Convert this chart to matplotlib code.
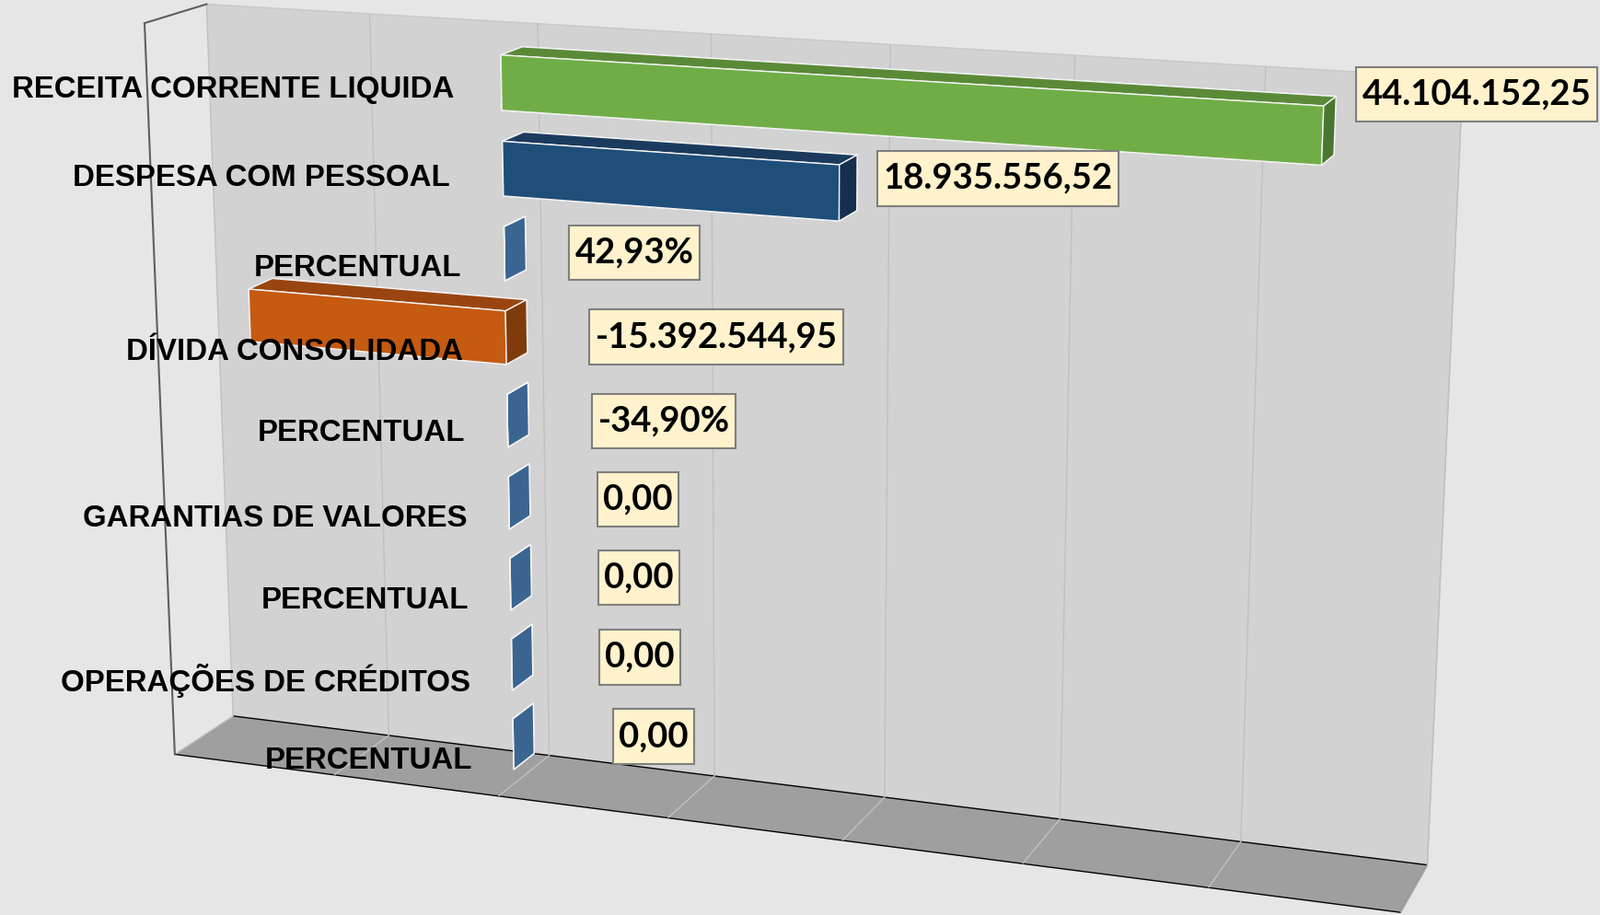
"""Excel-style 3D horizontal bar chart (LRF summary), redrawn with mplot3d."""
import numpy as np
import matplotlib
matplotlib.use("Agg")
import matplotlib.pyplot as plt
from matplotlib.path import Path

# data
categories = [
    "RECEITA CORRENTE LIQUIDA",
    "DESPESA COM PESSOAL",
    "PERCENTUAL",
    "DÍVIDA CONSOLIDADA",
    "PERCENTUAL",
    "GARANTIAS DE VALORES",
    "PERCENTUAL",
    "OPERAÇÕES DE CRÉDITOS",
    "PERCENTUAL",
]
values = [44104152.25, 18935556.52, 42.93, -15392544.95, -34.90, 0.0, 0.0, 0.0, 0.0]
value_labels = ["44.104.152,25", "18.935.556,52", "42,93%", "-15.392.544,95",
                "-34,90%", "0,00", "0,00", "0,00", "0,00"]
value_ticks = np.arange(-20e6, 50e6 + 1, 10e6)

# styling (front, top, end face) per bar
GREEN = ("#70ad47", "#5a8a38", "#4b7630")
BLUE = ("#1f4e79", "#1b3b5e", "#162f4c")
ORANGE = ("#c55a11", "#9a4510", "#803b0c")
STEEL = ("#3a6590", "#3a6590", "#3a6590")
bar_styles = [GREEN, BLUE, STEEL, ORANGE, STEEL, STEEL, STEEL, STEEL, STEEL]
# label placement tweaks (value units / category units)
label_dx = [1.9e6, 2.4e6, 4.1e6, 5.2e6, 5.3e6, 5.55e6, 5.55e6, 5.55e6, 6.3e6]
label_dz = [0.47, 0.20, 0.08, 0.10, 0.10, 0.16, 0.21, 0.23, 0.26]
cat_dx = [-0.2e6, -0.6e6, 0, 0, 0, 0, 0, 0, 0]
cat_dz = [-0.03, -0.06, -0.1, -0.1, -0.06, -0.1, -0.1, -0.1, -0.1]

BG = "#e6e6e6"
WALL = "#d3d2d3"
FLOOR = "#9f9f9f"
GRID = "#c0c0c0"


def label_box(x0, y0, width, height, mutation_size):
    # Excel data-label box: narrow side padding, taller top/bottom padding
    px, py = 0.17 * mutation_size, 0.335 * mutation_size
    a, b = x0 - px, y0 - py
    c, d = x0 + width + px, y0 + height + py
    return Path([(a, b), (c, b), (c, d), (a, d), (a, b)], closed=True)


W, H, DPI = 1738, 994, 100
fig = plt.figure(figsize=(W / DPI, H / DPI), dpi=DPI)
fig.patch.set_facecolor(BG)

# big square 3d axes, positioned so the box centre lands where it should
S = 2000.0
cx, cy = 844.0, H - 476.0
frac = 0.095 / 0.185
ax = fig.add_axes([(cx - frac * S) / W, (cy - frac * S) / H, S / W, S / H],
                  projection="3d", computed_zorder=False)
ax.patch.set_alpha(0)
ax.set_proj_type("persp", focal_length=0.4)
ax.view_init(elev=15, azim=-70)
ax.set_box_aspect((1365, 138, 813.2), zoom=0.811)

n = len(categories)
zpos = np.arange(n)[::-1].astype(float)
ztop = n - 0.48
ax.set_xlim(value_ticks[0], value_ticks[-1], view_margin=0)
ax.set_ylim(0, 1, view_margin=0)
ax.set_zlim(-0.5, ztop, view_margin=0)

# panes: back wall, floor, invisible side wall
ax.xaxis.set_pane_color((1, 1, 1, 0))
ax.xaxis.pane.set_edgecolor((0, 0, 0, 0))
ax.yaxis.set_pane_color(WALL)
ax.yaxis.pane.set_edgecolor("#c8c8c8")
ax.zaxis.set_pane_color(FLOOR)
ax.zaxis.pane.set_edgecolor((0, 0, 0, 0))

ax.set_xticks(value_ticks)
ax.set_xticklabels([])
ax.set_yticks([])
ax.set_zticks([])
for a in (ax.xaxis, ax.yaxis, ax.zaxis):
    a.line.set_color((0, 0, 0, 0))
    a._axinfo["tick"]["inward_factor"] = 0.0
    a._axinfo["tick"]["outward_factor"] = 0.0
    a._axinfo["grid"]["color"] = GRID
    a._axinfo["grid"]["linewidth"] = 1.0

# side wall outline
x0 = value_ticks[0]
ax.plot([x0, x0], [0, 0], [-0.5, ztop], color="#5f5f5f", lw=1.5, zorder=2)
ax.plot([x0, x0], [0, 1], [ztop, ztop], color="#5f5f5f", lw=1.5, zorder=2)

# bars
bar_h = 0.64
xs = np.minimum(values, 0)
dxs = np.abs(values)
face_colors = []
for front, top, end in bar_styles:
    # bar3d face order: -z, +z, -y, +y, -x, +x
    face_colors += [top, top, front, front, end, end]
ax.bar3d(xs, np.full(n, 0.3), zpos - bar_h / 2, dxs, np.full(n, 0.4),
         np.full(n, bar_h), color=face_colors, shade=False,
         edgecolor="#f4f4f4", linewidth=1.0, zorder=3)

# category labels
for z, name, dx, dz in zip(zpos, categories, cat_dx, cat_dz):
    ax.text(-1.55e6 + dx, 0, z + dz, name, ha="right", va="center",
            fontsize=23.8, fontweight="bold", color="black",
            family=["Liberation Sans", "DejaVu Sans"], zorder=10)

# value labels
for v, z, txt, dx, dz in zip(values, zpos, value_labels, label_dx, label_dz):
    ax.text(max(v, 0) + dx, 0.3, z + dz, txt, ha="left", va="center",
            fontsize=27.5, fontweight="bold", color="black",
            family=["Lato", "DejaVu Sans"], zorder=11,
            bbox=dict(boxstyle=label_box, facecolor="#fff2cc",
                      edgecolor="#7f7f7f", linewidth=1.5))

fig.savefig("out.png", dpi=DPI, facecolor=BG)
